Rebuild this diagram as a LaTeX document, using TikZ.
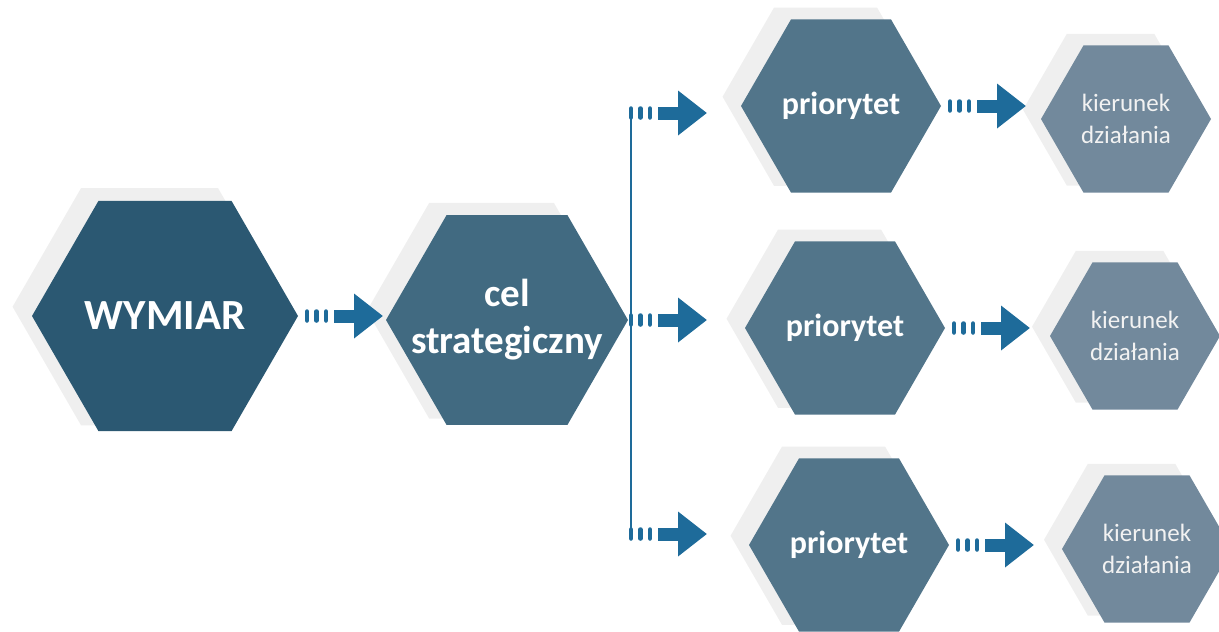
\documentclass[tikz,border=0pt]{standalone}
\usepackage{fontspec}
\setmainfont{Carlito}
\usetikzlibrary{positioning, arrows.meta, shapes.geometric, shadows}
\definecolor{arrowblue}{HTML}{1E6B9A}
\definecolor{dimblue}{HTML}{2B5872}
\definecolor{goalblue}{HTML}{416A81}
\definecolor{prioblue}{HTML}{52758A}
\definecolor{actblue}{HTML}{72899C}
\definecolor{hexshade}{HTML}{EFEFEF}
\tikzstyle{blockarrow} = [line width=13pt, color=arrowblue, -{Triangle[width=43pt,length=29pt]}]
\tikzstyle{pill} = [line width=4.5pt, color=arrowblue, line cap=round]

% three short ticks, then the block arrow up to the target
\newcommand{\dotarrow}[3][3pt]{%
  \foreach \dx in {0,9.5,19}
    \draw[pill] ([xshift=\dx pt, yshift=4.5pt]#2) -- ++(0,9);
  \draw[blockarrow, shorten >=#1] ([xshift=27pt]#2) -- (#3.west |- #2);
}

\begin{document}
\begin{tikzpicture}[x=1pt, y=-1pt]
  \tikzstyle{hex} = [regular polygon, regular polygon sides=6, inner sep=0pt,
    outer sep=0pt, text=white, align=center,
    general shadow={fill=hexshade, shadow xshift=-15pt, shadow yshift=9pt, shadow scale=1.03}]
  \tikzstyle{dimension} = [hex, fill=dimblue, minimum size=266pt,
    font=\fontsize{43}{50}\selectfont\bfseries]
  \tikzstyle{goal} = [hex, fill=goalblue, minimum size=242pt, inner sep=-22pt,
    font=\fontsize{39}{47}\selectfont\bfseries]
  \tikzstyle{priority} = [hex, fill=prioblue, minimum size=200pt,
    font=\fontsize{32}{37}\selectfont\bfseries]
  \tikzstyle{action} = [hex, fill=actblue, minimum size=170pt, text=white!95!black,
    font=\fontsize{25}{32}\selectfont]
  \tikzstyle{trunk} = [line width=2.5pt, color=arrowblue]

  \useasboundingbox (0,0) rectangle (1219,632);

  \node[dimension] (wym) at (165,316) {WYMIAR};
  \node[goal] (cel) at (507,320) {cel\\strategiczny};

  \node[priority] (pri1) at (841,106) {priorytet};
  \node[priority] (pri2) at (845,328) {priorytet};
  \node[priority] (pri3) at (849,545) {priorytet};

  \node[action] (kie1) at (1126,119) {kierunek\\działania};
  \node[action] (kie2) at (1135,336) {kierunek\\działania};
  \node[action] (kie3) at (1147,549) {kierunek\\działania};

  % arrow start points
  \coordinate[right=9pt of wym.east] (s0);
  \coordinate[right=9pt of pri1.east] (s1);
  \coordinate[right=9pt of pri2.east] (s2);
  \coordinate[right=9pt of pri3.east] (s3);
  \coordinate (b1) at (631,113);
  \coordinate (b2) at (631,320);
  \coordinate (b3) at (631,534);

  \draw[trunk] (b1) -- (b3);

  \dotarrow[3pt]{s0}{cel}
  \dotarrow[34pt]{b1}{pri1}
  \dotarrow[38pt]{b2}{pri2}
  \dotarrow[42pt]{b3}{pri3}
  \dotarrow[15pt]{s1}{kie1}
  \dotarrow[20pt]{s2}{kie2}
  \dotarrow[28pt]{s3}{kie3}
\end{tikzpicture}
\end{document}
